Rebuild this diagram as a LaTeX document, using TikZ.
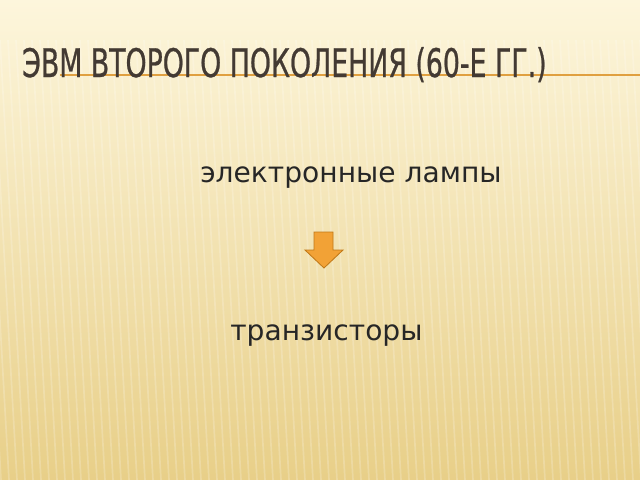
\documentclass[tikz,border=0pt]{standalone}
\usepackage{fontspec}
\setmainfont{DejaVu Sans}
\newfontfamily\titlefont[FakeBold=0.8]{DejaVu Sans Condensed}
\usetikzlibrary{positioning}

\definecolor{bgtop}{HTML}{FDF6DC}
\definecolor{bgmid}{HTML}{F6E6B4}
\definecolor{bgbottom}{HTML}{E8CF88}
\definecolor{titlecol}{HTML}{433A33}
\definecolor{rulecol}{HTML}{E0A040}
\definecolor{arrowfill}{HTML}{F2A236}
\definecolor{arrowline}{HTML}{C07818}

\tikzset{
  bodytext/.style={font=\fontsize{20}{24}\selectfont, text=black!85, inner sep=0pt, anchor=base west},
  stripe/.style={white, opacity=0.2, line width=1.2pt}
}

\begin{document}
\begin{tikzpicture}[x=0.025cm,y=-0.025cm]
\useasboundingbox (0,0) rectangle (640,480);

% background
\shade[top color=bgtop, middle color=bgmid, bottom color=bgbottom] (0,0) rectangle (640,480);
\foreach \x in {-40,-32,...,640} {
	\draw[stripe] (\x,40) -- (\x+25,480);
}

% title
\draw[rulecol, line width=0.8pt] (60,75) -- (640,75);
\node[font=\titlefont\fontsize{28}{30}\selectfont, text=titlecol, inner sep=0pt, anchor=base west, xscale=0.756] (title) at (22,77) {ЭВМ ВТОРОГО ПОКОЛЕНИЯ (60-Е ГГ.)};

% from lamps to transistors
\node[bodytext] (lamps) at (200,182) {электронные лампы};
\node[bodytext] (trans) at (230,340) {транзисторы};

\draw[arrowline, fill=arrowfill, line width=0.6pt]
	(314,232) -- (333,232) -- (333,250) -- (343,250) -- (324,268) -- (305,250) -- (314,250) -- cycle;

\end{tikzpicture}
\end{document}
